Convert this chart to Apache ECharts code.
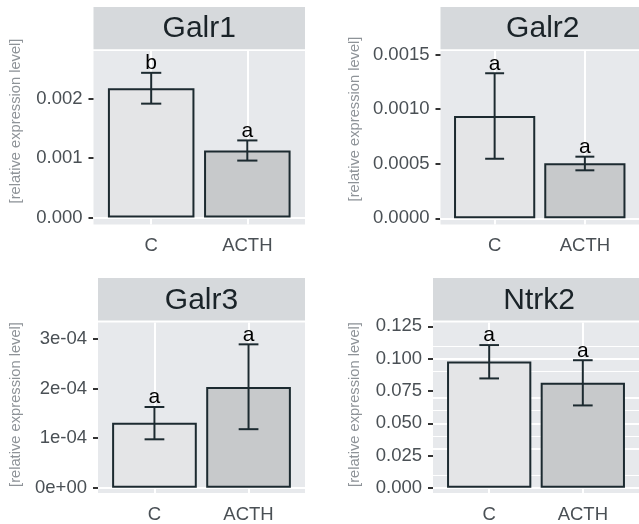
<!DOCTYPE html>
<html>
<head>
<meta charset="utf-8">
<script src="https://cdn.jsdelivr.net/npm/echarts@6/dist/echarts.min.js"></script>
<style>html,body{margin:0;padding:0;background:#fff}#c{width:639px;height:524px}</style>
</head>
<body>
<div id="c"></div>
<script>
// ---------- data ----------
const categories = ['C', 'ACTH'];
const genes = ['Galr1', 'Galr2', 'Galr3', 'Ntrk2'];

const galr1Mean = [0.00218, 0.00113];
const galr1Lo   = [0.00192, 0.00096];
const galr1Hi   = [0.00244, 0.00130];
const galr1Letters = ['b', 'a'];

const galr2Mean = [0.000938, 0.000504];
const galr2Lo   = [0.000546, 0.000440];
const galr2Hi   = [0.001330, 0.000565];
const galr2Letters = ['a', 'a'];

const galr3Mean = [1.31e-4, 2.03e-4];
const galr3Lo   = [0.976e-4, 1.18e-4];
const galr3Hi   = [1.627e-4, 2.89e-4];
const galr3Letters = ['a', 'a'];

const ntrk2Mean = [0.0978, 0.0813];
const ntrk2Lo   = [0.0847, 0.0638];
const ntrk2Hi   = [0.1105, 0.0988];
const ntrk2Letters = ['a', 'a'];

const galr1Ticks = [0, 0.001, 0.002];
const galr1Minor = [0.0005, 0.0015, 0.0025];
const galr2Ticks = [0, 0.0005, 0.0010, 0.0015];
const galr2Minor = [0.00025, 0.00075, 0.00125];
const galr3Ticks = [0, 1e-4, 2e-4, 3e-4];
const galr3Minor = [0.5e-4, 1.5e-4, 2.5e-4];
const ntrk2Ticks = [0, 0.025, 0.050, 0.075, 0.100, 0.125];
const ntrk2Minor = [0.0125, 0.0375, 0.0625, 0.0875, 0.1125];

const yTitle = '[relative expression level]';

// ---------- styling / layout ----------
const FONT = 'Liberation Sans, Arial, sans-serif';
const panelBg = '#E7E9EC';
const stripBg = '#D6D9DC';
const barFill = ['#E4E5E7', '#C7C9CB'];
const inkDark = '#1C2A30';
const tickText = '#4A5055';

const fmt3 = v => v.toFixed(3);
const fmt4 = v => v.toFixed(4);
const fmtSci = v => v.toExponential(0).replace(/e([+-])(\d)$/, 'e$10$2');

const panels = [
  { gene: genes[0], mean: galr1Mean, lo: galr1Lo, hi: galr1Hi, letters: galr1Letters, ticks: galr1Ticks, minor: galr1Minor, fmt: fmt3,
    left: 93.5, top: 51, width: 211.5, height: 173.5, stripTop: 7, stripH: 42.3, yMin: -0.000118, yMax: 0.002808, titleX: 16, titleY: 121 },
  { gene: genes[1], mean: galr2Mean, lo: galr2Lo, hi: galr2Hi, letters: galr2Letters, ticks: galr2Ticks, minor: galr2Minor, fmt: fmt4,
    left: 440.5, top: 51, width: 204.6, height: 173.5, stripTop: 7, stripH: 42.3, yMin: -0.0000569, yMax: 0.001534, titleX: 355, titleY: 119 },
  { gene: genes[2], mean: galr3Mean, lo: galr3Lo, hi: galr3Hi, letters: galr3Letters, ticks: galr3Ticks, minor: galr3Minor, fmt: fmtSci,
    left: 98, top: 322.5, width: 207, height: 172.5, stripTop: 278, stripH: 42.5, yMin: -0.106e-4, yMax: 3.33e-4, titleX: 15.5, titleY: 404.5 },
  { gene: genes[3], mean: ntrk2Mean, lo: ntrk2Lo, hi: ntrk2Hi, letters: ntrk2Letters, ticks: ntrk2Ticks, minor: ntrk2Minor, fmt: fmt3,
    left: 433, top: 322.5, width: 212.3, height: 172.5, stripTop: 278, stripH: 42.5, yMin: -0.004, yMax: 0.1280, titleX: 355, titleY: 404.5 }
];

const catPos = categories.map((c, i) => i + 1);

const grid = [], xAxis = [], yAxis = [], series = [], graphic = [];

panels.forEach((p, k) => {
  grid.push({ left: p.left, top: p.top, width: p.width, height: p.height, show: true,
              backgroundColor: panelBg, borderWidth: 0, containLabel: false });

  xAxis.push({
    gridIndex: k, type: 'value', min: 0.4, max: 2.6,
    axisLine: { show: false },
    splitLine: { show: false },
    axisTick: { show: true, customValues: catPos, length: 5, lineStyle: { color: '#333', width: 2 } },
    axisLabel: { show: true, customValues: catPos, margin: 12, color: tickText, fontSize: 18.5, fontFamily: FONT,
                 formatter: v => categories[Math.round(v) - 1] }
  });

  yAxis.push({
    gridIndex: k, type: 'value', min: p.yMin, max: p.yMax,
    axisLine: { show: false },
    splitLine: { show: false },
    axisTick: { show: true, customValues: p.ticks, length: 5, lineStyle: { color: '#333', width: 2 } },
    axisLabel: { show: true, customValues: p.ticks, margin: 11, color: tickText, fontSize: 18.5, fontFamily: FONT,
                 formatter: v => p.fmt(v) }
  });

  const gridLines = []
    .concat(p.minor.map(v => ({ yAxis: v, lineStyle: { color: '#fff', width: 1, type: 'solid' } })))
    .concat(p.ticks.map(v => ({ yAxis: v, lineStyle: { color: '#fff', width: 2, type: 'solid' } })))
    .concat(catPos.map(v => ({ xAxis: v, lineStyle: { color: '#fff', width: 2, type: 'solid' } })));

  series.push({
    type: 'bar', xAxisIndex: k, yAxisIndex: k, z: 2,
    barWidth: '90%',
    data: p.mean.map((m, i) => ({ value: [catPos[i], m],
      itemStyle: { color: barFill[i], borderColor: inkDark, borderWidth: 2 } })),
    silent: true, animation: false,
    markLine: { z: 1, silent: true, symbol: ['none', 'none'], label: { show: false },
                emphasis: { disabled: true }, animation: false, data: gridLines }
  });

  series.push({
    type: 'custom', xAxisIndex: k, yAxisIndex: k, z: 3, silent: true, animation: false,
    data: p.mean.map((m, i) => [catPos[i], p.lo[i], p.hi[i], i]),
    renderItem: (params, api) => {
      const x = api.value(0);
      const lo = api.coord([x, api.value(1)]);
      const hi = api.coord([x, api.value(2)]);
      const half = api.size([0.21, 0])[0] / 2;
      const ls = { stroke: inkDark, lineWidth: 2, fill: null };
      const idx = api.value(3);
      return { type: 'group', children: [
        { type: 'line', shape: { x1: hi[0], y1: hi[1], x2: lo[0], y2: lo[1] }, style: ls },
        { type: 'line', shape: { x1: hi[0] - half, y1: hi[1], x2: hi[0] + half, y2: hi[1] }, style: ls },
        { type: 'line', shape: { x1: lo[0] - half, y1: lo[1], x2: lo[0] + half, y2: lo[1] }, style: ls },
        { type: 'text', x: hi[0], y: hi[1] + 1, style: { text: p.letters[idx], align: 'center', verticalAlign: 'bottom',
          font: '21px ' + FONT, fill: '#000' } }
      ] };
    }
  });

  graphic.push({ type: 'rect', silent: true,
    shape: { x: p.left, y: p.stripTop, width: p.width, height: p.stripH }, style: { fill: stripBg } });
  graphic.push({ type: 'text', silent: true, x: p.left + p.width / 2, y: p.stripTop + p.stripH / 2 + 1,
    style: { text: p.gene, align: 'center', verticalAlign: 'middle', font: '30px ' + FONT, fill: '#1A2328' } });
  graphic.push({ type: 'text', silent: true, x: p.titleX, y: p.titleY, rotation: Math.PI / 2,
    style: { text: yTitle, align: 'center', verticalAlign: 'middle', font: '14.7px ' + FONT, fill: '#8E9398' } });
});

const chart = echarts.init(document.getElementById('c'), null, { renderer: 'canvas' });
chart.setOption({ animation: false, grid, xAxis, yAxis, series, graphic });
</script>
</body>
</html>
